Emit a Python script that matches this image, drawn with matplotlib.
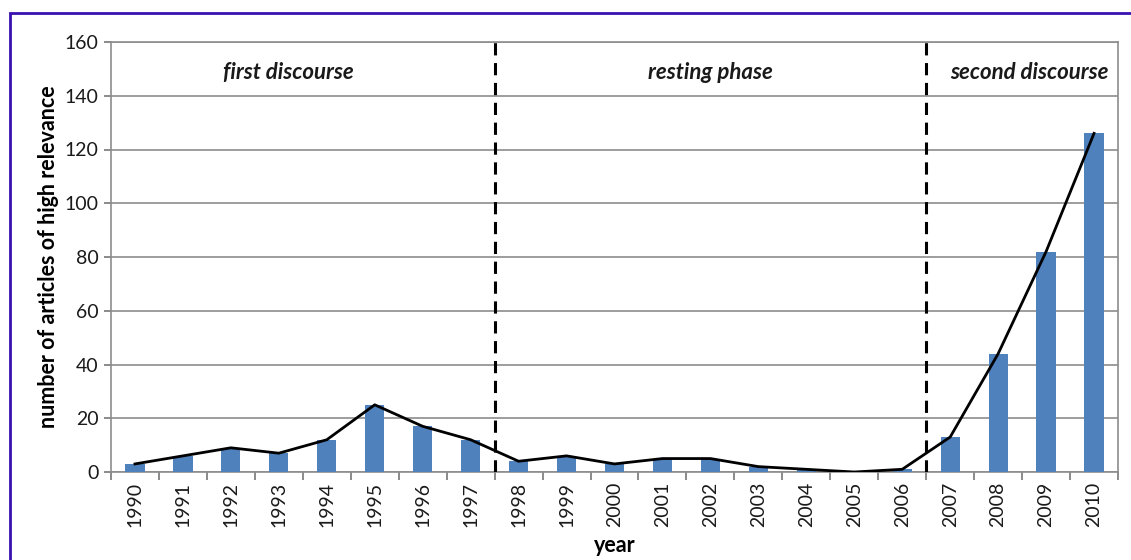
import numpy as np
import matplotlib
matplotlib.use('Agg')
import matplotlib.pyplot as plt
from matplotlib.patches import Rectangle

years = ['1990', '1991', '1992', '1993', '1994', '1995', '1996', '1997', '1998', '1999', '2000',
         '2001', '2002', '2003', '2004', '2005', '2006', '2007', '2008', '2009', '2010']
articles = [3, 6, 9, 7, 12, 25, 17, 12, 4, 6, 3, 5, 5, 2, 1, 0, 1, 13, 44, 82, 126]
phase_labels = ['first discourse', 'resting phase', 'second discourse']
phase_breaks = [7.5, 16.5]  # between 1997/1998 and 2006/2007

plt.rcParams['font.family'] = ['Lato', 'DejaVu Sans']

fig = plt.figure(figsize=(11.31, 5.6), dpi=100)
ax = fig.add_axes([111 / 1131, 1 - 472 / 560, 1007 / 1131, 430 / 560])

x = np.arange(len(years))
ax.bar(x, articles, width=0.4, color='#4F81BD', zorder=3)
ax.plot(x, articles, color='black', lw=2, zorder=4)

for b in phase_breaks:
    ax.axvline(b, color='black', lw=2.2, ls=(0, (4, 2.5)), zorder=5)

ax.text(3.2, 148.5, phase_labels[0], ha='center', va='center', fontsize=16,
        style='italic', fontweight='bold', color='#1a1a1a')
ax.text(12.0, 148.5, phase_labels[1], ha='center', va='center', fontsize=16,
        style='italic', fontweight='bold', color='#1a1a1a')
ax.text(18.65, 148.5, phase_labels[2], ha='center', va='center', fontsize=16,
        style='italic', fontweight='bold', color='#1a1a1a')

ax.set_xlim(-0.5, len(years) - 0.5)
ax.set_ylim(0, 160)
ax.set_yticks(range(0, 161, 20))
ax.yaxis.grid(True, color='#8c8c8c', lw=1.2, zorder=0)
ax.set_axisbelow(True)

ax.set_xticks(x)
ax.set_xticklabels(years, rotation=90, fontsize=14, color='#1a1a1a')
ax.set_xticks(np.arange(-0.5, len(years), 1), minor=True)
ax.tick_params(axis='x', which='major', length=0, pad=7)
ax.tick_params(axis='x', which='minor', length=6, color='#777777', width=1.2)
ax.tick_params(axis='y', length=5, color='#777777', width=1.2, labelsize=14,
               labelcolor='#1a1a1a', pad=4)

for s in ['left', 'bottom', 'right', 'top']:
    ax.spines[s].set_color('#8c8c8c')
    ax.spines[s].set_linewidth(1.2)

ax.set_ylabel('number of articles of high relevance', fontsize=15.5, fontweight='bold', labelpad=4)
ax.set_xlabel('year', fontsize=15.5, fontweight='bold', labelpad=6)

# purple frame around the figure
fig.patches.append(Rectangle((9.5 / 1131, -0.1), 1.2, 1 - 12.5 / 560 + 0.1,
                             transform=fig.transFigure, fill=False,
                             edgecolor='#3A10B0', lw=2, zorder=10))

fig.savefig('out.png', dpi=100)
